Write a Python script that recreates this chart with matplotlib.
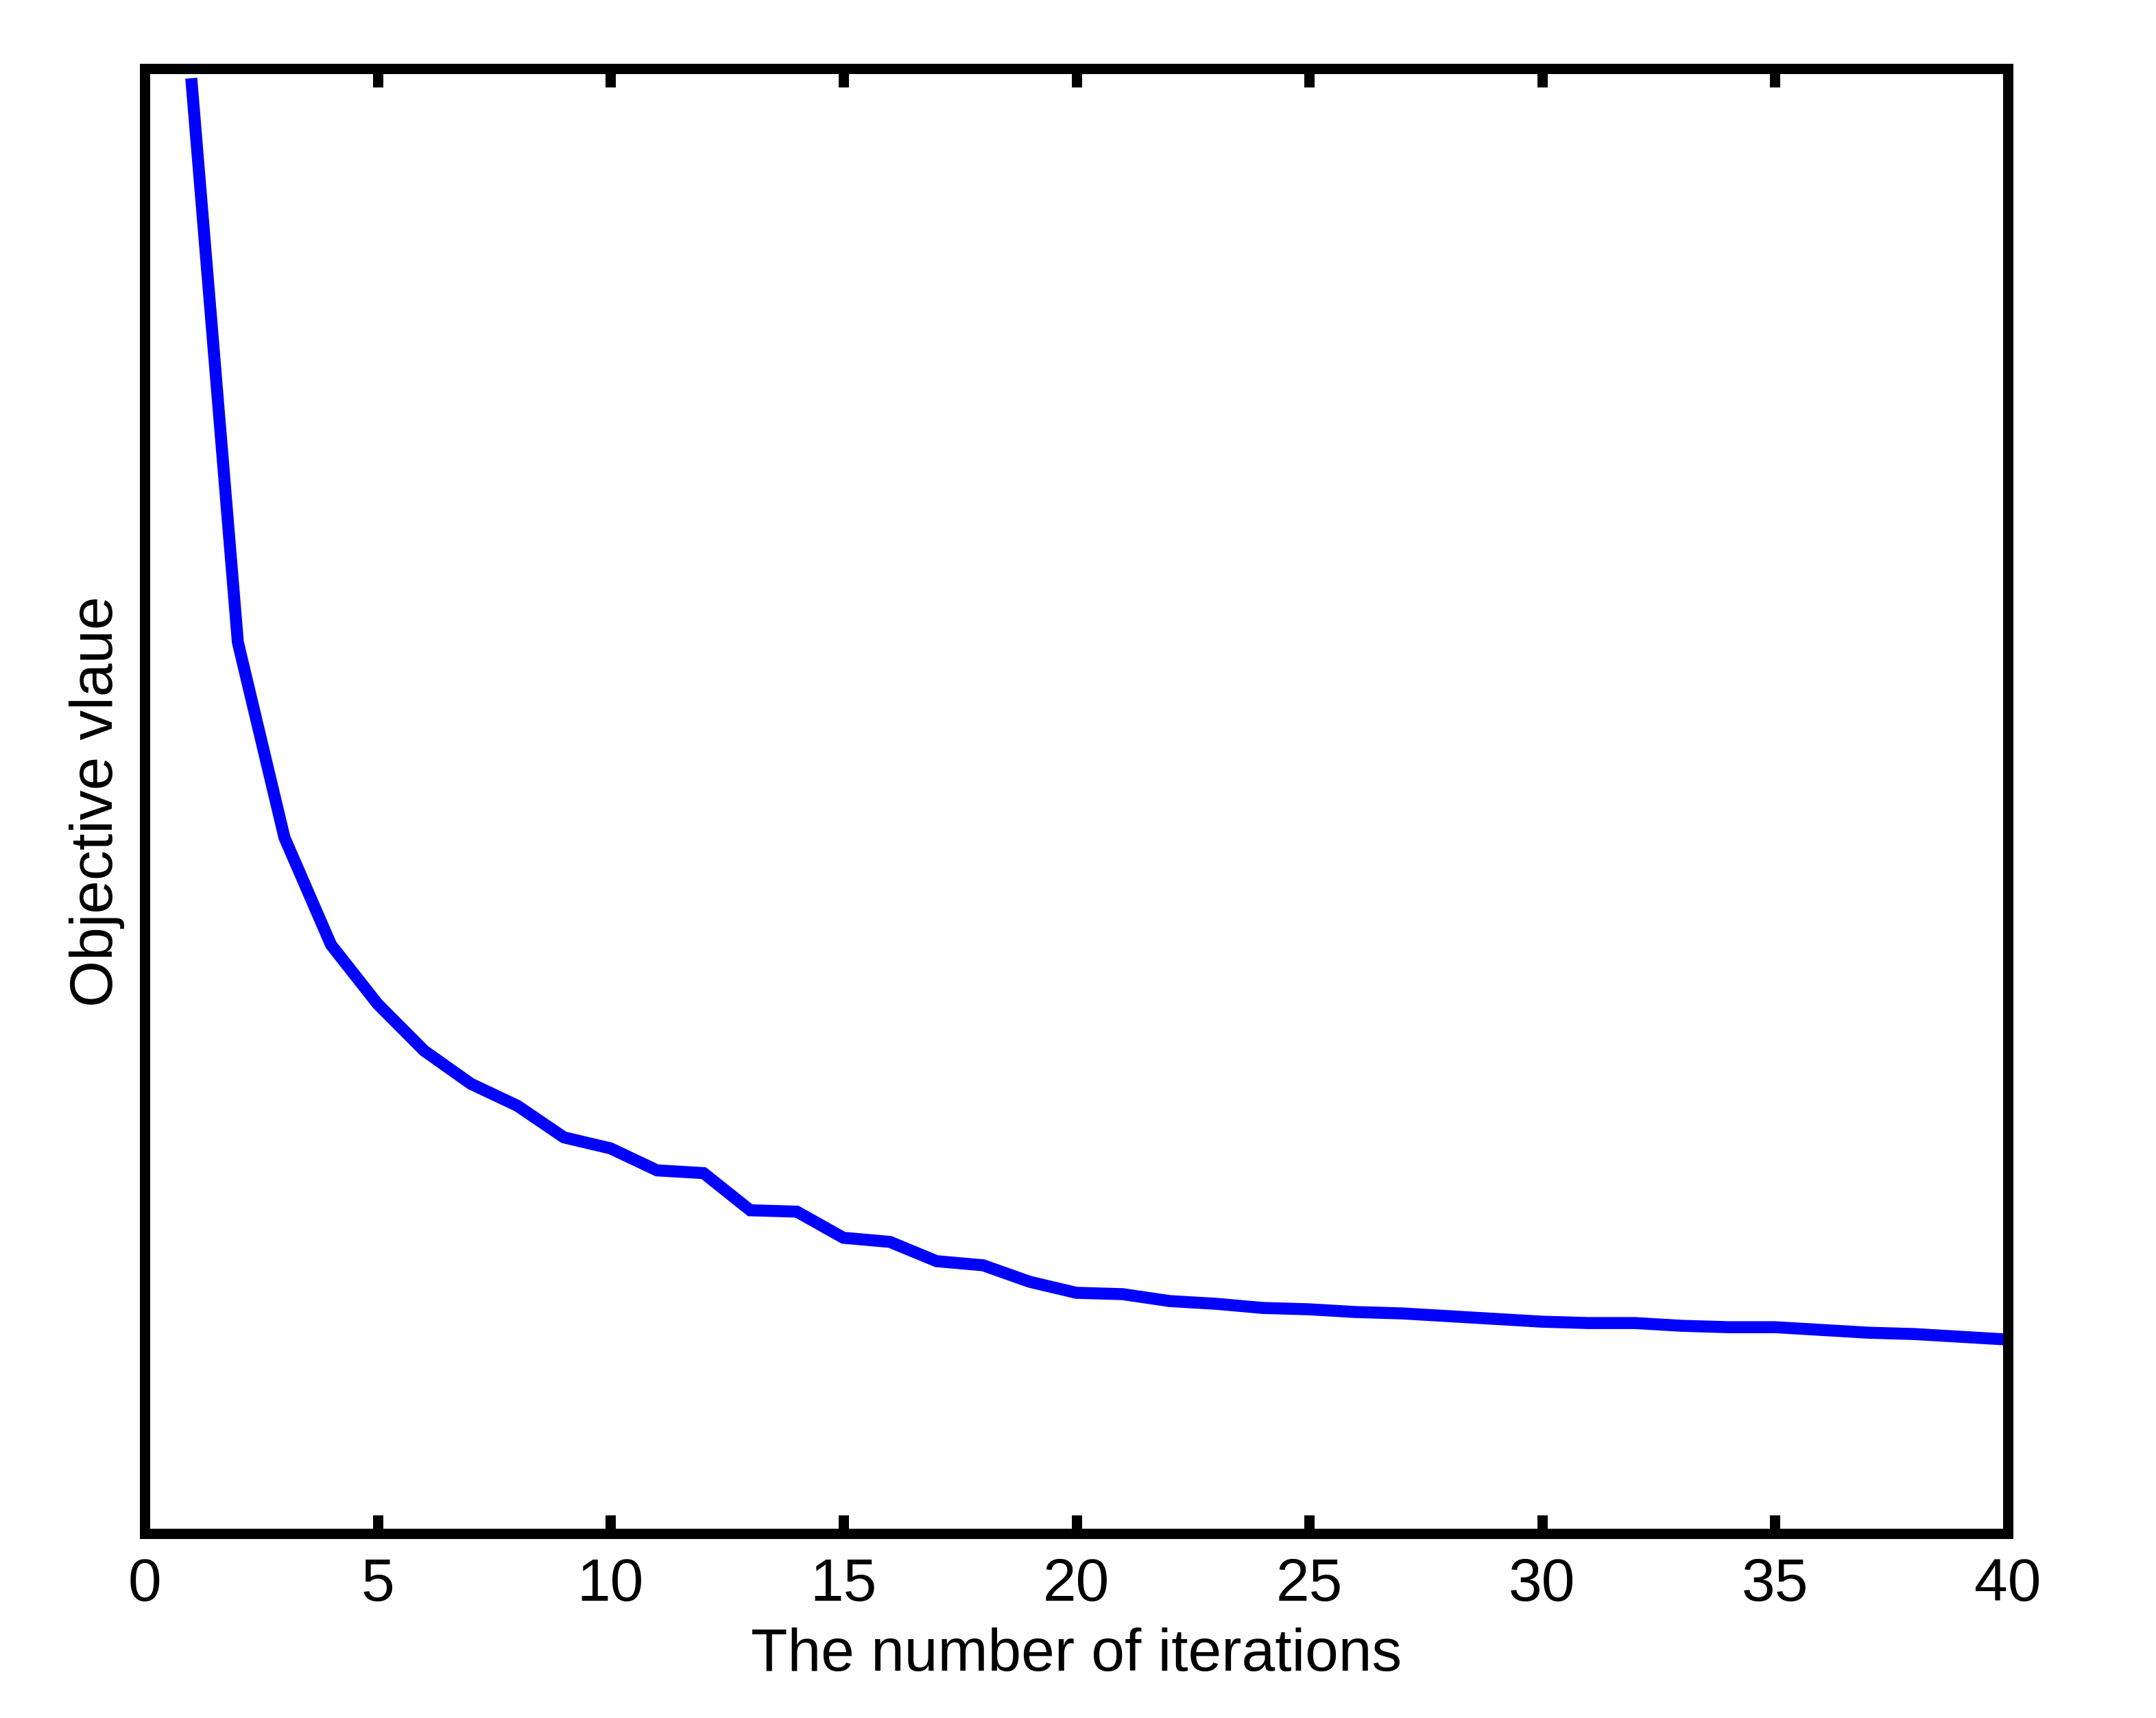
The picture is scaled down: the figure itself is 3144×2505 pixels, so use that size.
import matplotlib
matplotlib.use("Agg")
import matplotlib.pyplot as plt

iterations = list(range(1, 41))
objective = [10.58, 6.48, 5.06, 4.28, 3.85, 3.51, 3.27, 3.11, 2.88, 2.80,
             2.64, 2.62, 2.35, 2.34, 2.15, 2.12, 1.98, 1.95, 1.83, 1.75,
             1.74, 1.69, 1.67, 1.64, 1.63, 1.61, 1.60, 1.58, 1.56, 1.54,
             1.53, 1.53, 1.51, 1.50, 1.50, 1.48, 1.46, 1.45, 1.43, 1.41]
xticks = [0, 5, 10, 15, 20, 25, 30, 35, 40]

plt.rcParams['font.family'] = ['Liberation Sans', 'DejaVu Sans']
fs = 21

W, H, DPI = 3145, 2505, 300
fig = plt.figure(figsize=(W / DPI, H / DPI), dpi=DPI)
left, right, top, bottom = 211 / W, 2928 / W, 1 - 100 / H, 1 - 2236 / H
ax = fig.add_axes([left, bottom, right - left, top - bottom])

ax.plot(iterations, objective, color=(0, 0, 1), linewidth=4.2,
        solid_joinstyle='miter', solid_capstyle='butt')

ax.set_xlim(0, 40)
ax.set_ylim(0, 10.65)
ax.set_xticks(xticks)
ax.set_xticklabels([str(t) for t in xticks])
ax.set_yticks([])

for s in ax.spines.values():
    s.set_linewidth(3.6)
    s.set_color('black')

ax.tick_params(axis='x', direction='in', length=6.5, width=3.6, top=True,
               labeltop=False, labelsize=fs, pad=8.5, colors='black')

ax.set_xlabel('The number of iterations', fontsize=fs, labelpad=5)
ax.set_ylabel('Objective vlaue', fontsize=fs, labelpad=7)

fig.savefig('out.png', dpi=DPI, facecolor='white')
